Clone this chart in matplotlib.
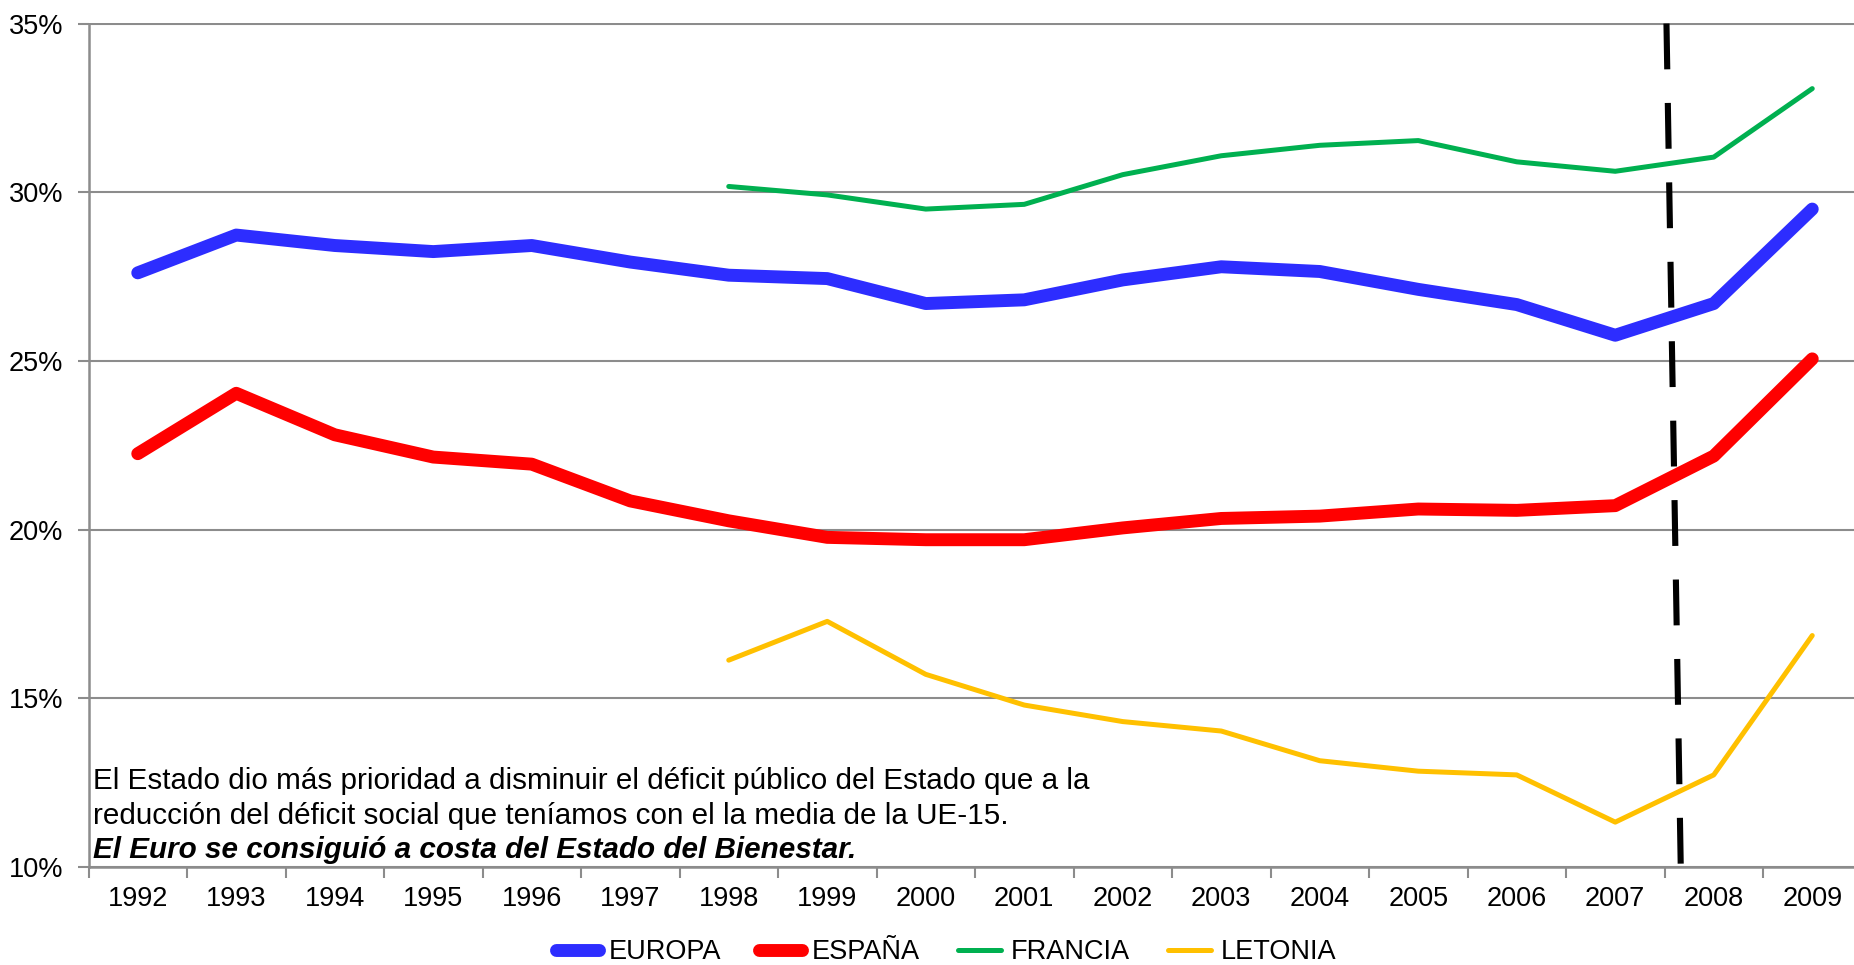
import matplotlib
matplotlib.use("Agg")
import matplotlib.pyplot as plt
from matplotlib.lines import Line2D
import numpy as np

plt.rcParams['font.family'] = ['Liberation Sans', 'DejaVu Sans']

years = ['1992', '1993', '1994', '1995', '1996', '1997', '1998', '1999', '2000',
         '2001', '2002', '2003', '2004', '2005', '2006', '2007', '2008', '2009']
europa = [27.61, 28.73, 28.42, 28.24, 28.42, 27.93, 27.54, 27.44, 26.70,
          26.81, 27.40, 27.79, 27.65, 27.12, 26.67, 25.76, 26.70, 29.50]
espana = [22.25, 24.04, 22.81, 22.15, 21.94, 20.85, 20.26, 19.77, 19.70,
          19.70, 20.05, 20.33, 20.40, 20.61, 20.57, 20.71, 22.18, 25.06]
francia_years = ['1998', '1999', '2000', '2001', '2002', '2003', '2004', '2005',
                 '2006', '2007', '2008', '2009']
francia = [30.17, 29.92, 29.50, 29.64, 30.52, 31.08, 31.39, 31.53, 30.90, 30.62, 31.04, 33.07]
letonia = [16.13, 17.28, 15.71, 14.80, 14.31, 14.03, 13.15, 12.84, 12.73, 11.33, 12.73, 16.86]
yticks = [10, 15, 20, 25, 30, 35]
ytick_labels = ['10%', '15%', '20%', '25%', '30%', '35%']
series_names = ['EUROPA', 'ESPAÑA', 'FRANCIA', 'LETONIA']
note_lines = ["El Estado dio más prioridad a disminuir el déficit público del Estado que a la",
              "reducción del déficit social que teníamos con el la media de la UE-15."]
note_bold = "El Euro se consiguió a costa del Estado del Bienestar."

colors = ['#2D2DFF', '#FF0000', '#00B050', '#FFC000']
widths = [9.3, 9.3, 3.6, 3.6]

fig = plt.figure(figsize=(18.54, 9.65), dpi=100)
ax = fig.add_axes([88.5 / 1854, 1 - 867 / 965, 1773 / 1854, (867 - 23.5) / 965])

x = np.arange(len(years))
xf = np.array([years.index(y) for y in francia_years])

ax.plot(x, europa, color=colors[0], lw=widths[0], solid_capstyle='round', solid_joinstyle='round', zorder=3)
ax.plot(x, espana, color=colors[1], lw=widths[1], solid_capstyle='round', solid_joinstyle='round', zorder=3)
ax.plot(xf, francia, color=colors[2], lw=widths[2], solid_capstyle='round', zorder=3)
ax.plot(xf, letonia, color=colors[3], lw=widths[3], solid_capstyle='round', zorder=3)

# dashed separator
ax.plot([15.52, 15.665], [35, 10], color='black', lw=4.4, linestyle=(0, (7.5, 5.5)),
        zorder=4, clip_on=False)

ax.set_xlim(-0.5, len(years) - 0.5)
ax.set_ylim(10, 35)
ax.set_yticks(yticks)
ax.set_yticklabels(ytick_labels)
ax.yaxis.grid(True, color='#8C8C8C', lw=1.5)
ax.set_axisbelow(True)

ax.set_xticks(x)
ax.set_xticklabels(years)
ax.set_xticks(np.arange(-0.5, len(years)), minor=True)
ax.tick_params(axis='x', which='major', length=0, pad=14, labelsize=19.5)
ax.tick_params(axis='x', which='minor', length=8, width=1.5, color='#8C8C8C')
ax.tick_params(axis='y', length=8, width=1.5, color='#8C8C8C', labelsize=19.5, pad=10)

for s in ['top', 'right']:
    ax.spines[s].set_visible(False)
for s in ['left', 'bottom']:
    ax.spines[s].set_color('#8C8C8C')
    ax.spines[s].set_linewidth(1.8)

fig.text(93 / 1854, 1 - 781 / 965, note_lines[0], fontsize=21.3, va='center', ha='left')
fig.text(93 / 1854, 1 - 816 / 965, note_lines[1], fontsize=21.3, va='center', ha='left')
fig.text(93 / 1854, 1 - 850 / 965, note_bold, fontsize=21.3, va='center', ha='left',
         fontweight='bold', fontstyle='italic')

handles = [Line2D([0], [0], color=c, lw=w, solid_capstyle='round') for c, w in zip(colors, widths)]
fig.legend(handles, series_names, loc='center', bbox_to_anchor=(946 / 1854, 1 - 952 / 965),
           ncol=4, frameon=False, fontsize=19.5, handlelength=1.6, handletextpad=0.35,
           columnspacing=1.4, borderaxespad=0)

fig.savefig('out.png', dpi=100)
